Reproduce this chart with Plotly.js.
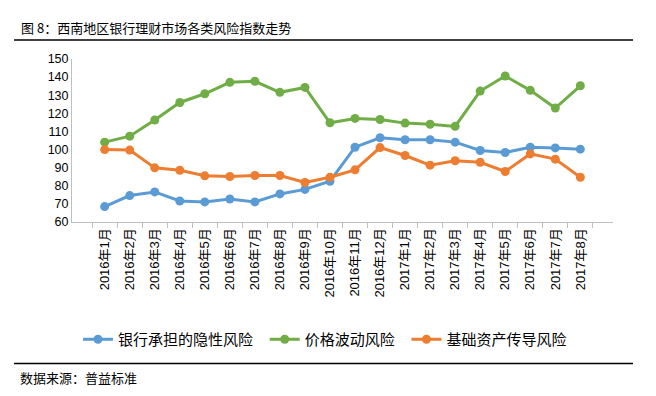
<!DOCTYPE html>
<html>
<head>
<meta charset="utf-8">
<script src="https://cdn.plot.ly/plotly-3.0.1.min.js"></script>
<style>html,body{margin:0;padding:0;background:#fff;}#chart{width:656px;height:396px;}</style>
</head>
<body>
<div id="chart"></div>
<script>
var categories = ["2016年1月","2016年2月","2016年3月","2016年4月","2016年5月","2016年6月","2016年7月","2016年8月","2016年9月","2016年10月","2016年11月","2016年12月","2017年1月","2017年2月","2017年3月","2017年4月","2017年5月","2017年6月","2017年7月","2017年8月"];
var bankRisk = [68.5,74.6,76.6,71.6,71.1,72.7,71.1,75.5,78.0,82.5,101.3,106.5,105.4,105.4,104.1,99.5,98.4,101.3,100.9,100.2];
var priceRisk = [104.1,107.4,116.3,126.0,130.8,137.1,137.7,131.6,134.3,114.8,117.2,116.6,114.6,114.0,112.8,132.3,140.6,132.7,122.9,135.2];
var assetRisk = [100.0,99.7,89.9,88.6,85.5,85.1,85.7,85.7,81.8,84.7,88.8,101.1,96.7,91.4,93.8,93.0,87.9,97.6,94.7,84.7];
var seriesNames = ["银行承担的隐性风险","价格波动风险","基础资产传导风险"];
var colors = ["#5B9BD5","#70AD47","#ED7D31"];
var yTicks = [60,70,80,90,100,110,120,130,140,150];

var cjk = "'Liberation Sans', Arial, 'Noto Sans CJK SC', sans-serif";
var vals = [bankRisk, priceRisk, assetRisk];
var traces = vals.map(function(v, i){
  return {
    type: 'scatter', mode: 'lines+markers', x: categories, y: v,
    name: seriesNames[i] + (i < 2 ? '\u00a0\u00a0' : ''),
    line: {color: colors[i], width: 3},
    marker: {color: colors[i], size: 9, symbol: 'circle'}
  };
});

var L = 72, R = 613, T = 59, B = 221.7;
function px(x){ return (x - L) / (R - L); }
function py(y){ return (B - y) / (B - T); }

var layout = {
  width: 656, height: 396,
  margin: {l: L, r: 656 - R, t: T, b: 396 - B},
  paper_bgcolor: '#fff', plot_bgcolor: '#fff',
  font: {family: cjk, color: '#000', size: 12},
  title: {
    text: '图 8：西南地区银行理财市场各类风险指数走势',
    font: {family: "'Noto Sans CJK SC', sans-serif", size: 13, color: '#000'},
    xref: 'container', yref: 'container', x: 21/656, xanchor: 'left', y: 1 - 28/396, yanchor: 'middle'
  },
  xaxis: {
    type: 'category', showgrid: false, zeroline: false,
    showline: true, linecolor: '#BFBFBF', linewidth: 1,
    ticks: 'outside', tickson: 'boundaries', ticklen: 5, tickcolor: '#BFBFBF',
    tickangle: -90, tickfont: {family: cjk, size: 13, color: '#000'}
  },
  yaxis: {
    range: [60, 150], tickvals: yTicks, showgrid: false, zeroline: false,
    showline: true, linecolor: '#BFBFBF', linewidth: 1, ticks: '',
    tickfont: {family: cjk, size: 12.5, color: '#000'}
  },
  showlegend: true,
  legend: {
    orientation: 'h', x: px(78), xanchor: 'left', y: py(339), yanchor: 'middle',
    font: {family: "'Noto Sans CJK SC', sans-serif", size: 15, color: '#000'},
    bgcolor: 'rgba(0,0,0,0)', traceorder: 'normal'
  },
  shapes: [
    {type: 'line', xref: 'paper', yref: 'paper', x0: px(14), x1: px(633), y0: py(40), y1: py(40), line: {color: '#000', width: 1.5}},
    {type: 'line', xref: 'paper', yref: 'paper', x0: px(14), x1: px(633), y0: py(363), y1: py(363), line: {color: '#000', width: 1.5}}
  ],
  annotations: [
    {text: '数据来源：普益标准', xref: 'paper', yref: 'paper', x: px(18), y: py(377), xanchor: 'left', yanchor: 'middle', showarrow: false,
     font: {family: "'Noto Sans CJK SC', sans-serif", size: 13, color: '#000'}}
  ]
};

Plotly.newPlot('chart', traces, layout, {displayModeBar: false, staticPlot: true});
</script>
</body>
</html>
